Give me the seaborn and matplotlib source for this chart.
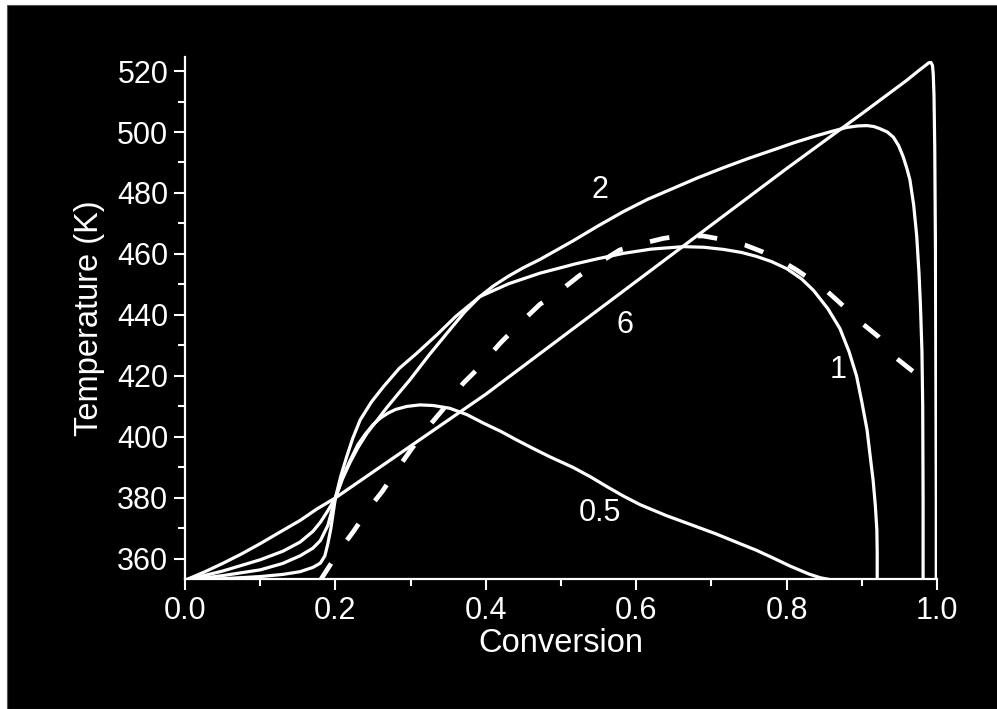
import matplotlib
matplotlib.use("Agg")
import matplotlib.pyplot as plt
from matplotlib.patches import Rectangle
from matplotlib.ticker import MultipleLocator, FormatStrFormatter
import seaborn as sns
import pandas as pd

# ---- data ----
x_6 = [0.0, 0.025, 0.05, 0.075, 0.1, 0.125, 0.153, 0.175, 0.2, 0.3, 0.4, 0.5, 0.6,
       0.7, 0.8, 0.9, 0.96, 0.975, 0.985, 0.989, 0.992, 0.994, 0.995, 0.996, 0.997,
       0.998, 0.9985, 0.999, 0.999]
T_6 = [353, 355.6, 358.5, 361.6, 365, 368.6, 372.6, 376.3, 380, 397, 414, 432.5, 451,
       469.5, 488, 506, 517, 520, 521.9, 522.7, 522.8, 521.8, 519, 512, 495,
       460, 420, 380, 353]

x_2 = [0.0, 0.05, 0.1, 0.13, 0.153, 0.17, 0.18, 0.19, 0.2, 0.209, 0.219, 0.23, 0.242,
       0.255, 0.268, 0.283, 0.299, 0.325, 0.352, 0.372, 0.392, 0.41, 0.43, 0.45,
       0.472, 0.516, 0.55, 0.583, 0.615, 0.649, 0.68, 0.716, 0.75, 0.782, 0.81,
       0.836, 0.86, 0.88, 0.895, 0.907, 0.916, 0.924, 0.934, 0.942, 0.949, 0.955,
       0.96, 0.964, 0.969, 0.973, 0.976, 0.978, 0.98, 0.981, 0.9815, 0.9815]
T_2 = [353, 356, 359.7, 362.5, 365.5, 369, 372, 375.8, 380, 386, 391.4, 396.5, 401.2,
       405.3, 409.5, 414, 418.7, 427, 435.1, 441, 446, 449.5, 452.7, 455.5,
       458.2, 464.3, 469.3, 473.9, 477.9, 481.5, 484.8, 488.3, 491.4, 494.1, 496.5,
       498.5, 500.2, 501.5, 502, 502.1, 501.8, 501.1, 500, 498.3, 495.5, 491.9,
       488, 484.3, 476, 466, 454, 443, 428, 410, 380, 353]

x_1 = [0.0, 0.05, 0.1, 0.13, 0.153, 0.17, 0.18, 0.19, 0.2, 0.207, 0.215, 0.223, 0.233,
       0.248, 0.264, 0.285, 0.308, 0.335, 0.36, 0.392, 0.43, 0.472, 0.52, 0.55,
       0.583, 0.62, 0.663, 0.69, 0.716, 0.74, 0.76, 0.78, 0.80, 0.82, 0.836,
       0.855, 0.871, 0.883, 0.893, 0.9, 0.907, 0.911, 0.915, 0.918, 0.92, 0.9205,
       0.9205]
T_1 = [353, 354.5, 356.4, 358.5, 361, 363.5, 366, 371, 380, 387, 393.5, 399.5, 405.6,
       411.5, 416.5, 422.5, 427.4, 433.5, 439.5, 446, 450.2, 453.7, 456.8, 458.5,
       460.2, 461.6, 462.4, 462.2, 461.5, 460.5, 459.2, 457.5, 455.2, 451.8, 448,
       442, 435.5, 428, 420, 411.5, 402.3, 394, 385.9, 377.5, 369.5, 362,
       353]

x_05 = [0.0, 0.05, 0.1, 0.13, 0.153, 0.17, 0.18, 0.186, 0.19, 0.194, 0.197, 0.2,
        0.21, 0.22, 0.23, 0.24, 0.25, 0.26, 0.27, 0.28, 0.295, 0.3125, 0.33, 0.352,
        0.375, 0.397, 0.42, 0.441, 0.463, 0.485, 0.516, 0.54, 0.561, 0.583, 0.605,
        0.64, 0.672, 0.705, 0.738, 0.76, 0.782, 0.805, 0.83, 0.845, 0.862]
T_05 = [353, 353.5, 354.2, 354.9, 355.8, 357.2, 358.6, 361, 365, 370, 375, 380,
        387, 392.5, 397.5, 401, 404, 406.2, 407.8, 409, 410, 410.5, 410.3, 409.4,
        407.3, 404.5, 401.8, 399, 396.2, 393.5, 390, 386.8, 383.7, 380.6, 377.8,
        374.2, 371.3, 368.3, 365, 362.8, 360.3, 357.6, 355, 353.8, 353]

x_dash = [0.18, 0.206, 0.224, 0.246, 0.262, 0.284, 0.301, 0.326, 0.343, 0.37, 0.39,
          0.419, 0.441, 0.472, 0.494, 0.525, 0.55, 0.578, 0.601, 0.636, 0.658,
          0.689, 0.714, 0.745, 0.767, 0.798, 0.813, 0.849, 0.869, 0.9, 0.922,
          0.946, 0.971]
T_dash = [353, 363, 369, 377, 382, 390, 396, 404, 409, 417.6, 422.5, 430.7, 436.2,
          443.5, 447, 453, 457, 461.3, 463, 465.1, 465.9, 465.9, 464.8, 462.9,
          460.8, 457, 454.8, 448.8, 444.4, 437.3, 432.9, 425.8, 420.9]

labels = ["2", "6", "1", "0.5"]
label_x = [0.552, 0.585, 0.868, 0.552]
label_T = [481, 436.7, 422, 375]

# ---- style ----
sns.set_style("dark", {"axes.facecolor": "black", "figure.facecolor": "white"})
plt.rcParams['font.family'] = ['Liberation Sans', 'DejaVu Sans']

fig = plt.figure(figsize=(9.97, 7.09), dpi=100)
fig.add_artist(Rectangle((7 / 997, 0), 1, (709 - 5) / 709, transform=fig.transFigure,
                         facecolor="black", edgecolor="#555555", lw=0.8, zorder=-1))
ax = fig.add_axes([185 / 997, 130 / 709, 752 / 997, 522 / 709])
ax.set_facecolor("black")

solid_kw = dict(color="white", lw=2.3, sort=False, estimator=None, ax=ax)
for xs, ts in [(x_6, T_6), (x_2, T_2), (x_1, T_1), (x_05, T_05)]:
    df = pd.DataFrame({"Conversion": xs, "T": ts})
    sns.lineplot(data=df, x="Conversion", y="T", **solid_kw)

df_d = pd.DataFrame({"Conversion": x_dash, "T": T_dash})
sns.lineplot(data=df_d, x="Conversion", y="T", color="white", lw=3.4, sort=False,
             estimator=None, ax=ax)
ax.lines[-1].set_dashes((4.2, 6.0))
ax.lines[-1].set_dash_capstyle("butt")

for t, lx, ly in zip(labels, label_x, label_T):
    ax.text(lx, ly, t, color="white", fontsize=22, ha="center", va="center")

ax.set_xlim(0, 1.0)
ax.set_ylim(353.4, 524.6)
ax.xaxis.set_major_locator(MultipleLocator(0.2))
ax.xaxis.set_minor_locator(MultipleLocator(0.1))
ax.yaxis.set_major_locator(MultipleLocator(20))
ax.yaxis.set_minor_locator(MultipleLocator(10))
ax.xaxis.set_major_formatter(FormatStrFormatter("%.1f"))
ax.grid(False)

for s in ["top", "right"]:
    ax.spines[s].set_visible(False)
for s in ["left", "bottom"]:
    ax.spines[s].set_color("white")
    ax.spines[s].set_linewidth(1.6)

ax.tick_params(which="major", direction="out", length=8, width=1.5, colors="white",
               labelsize=22, pad=4, bottom=True, left=True)
ax.tick_params(which="minor", direction="out", length=5, width=1.5, colors="white",
               bottom=True, left=True)

ax.set_xlabel("Conversion", color="white", fontsize=23.5, labelpad=2)
ax.set_ylabel("Temperature (K)", color="white", fontsize=23.5, labelpad=9)

fig.savefig("out.png", dpi=100, facecolor=fig.get_facecolor())
